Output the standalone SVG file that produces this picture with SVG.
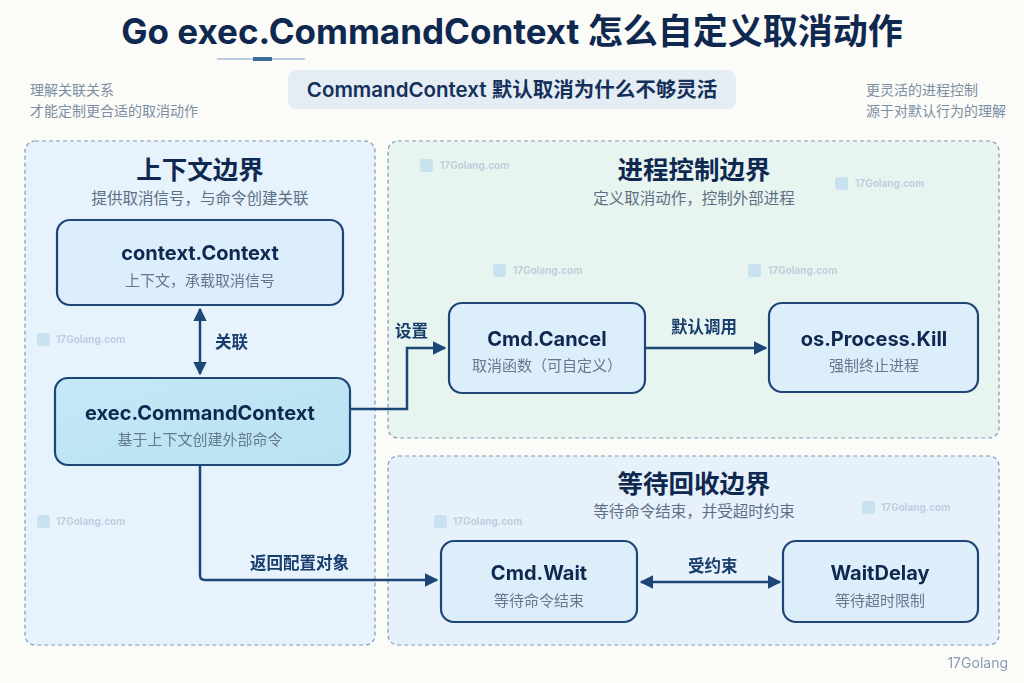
<svg xmlns="http://www.w3.org/2000/svg" width="1024" height="683" viewBox="0 0 1024 683">
<defs>
<style>
.t{font-family:Inter,"Noto Sans","Noto Sans CJK SC",sans-serif;}
.title{font-size:35px;font-weight:700;fill:#0f2850;text-anchor:middle;}
.note{font-size:14px;fill:#7d8ea2;}
.ptitle{font-size:25.5px;font-weight:700;fill:#0f2850;text-anchor:middle;}
.psub{font-size:15.5px;fill:#5d6f85;text-anchor:middle;}
.nt{font-size:20px;font-weight:700;fill:#0f2850;text-anchor:middle;}
.ns{font-size:15px;fill:#66788e;text-anchor:middle;}
.lbl{font-size:16.5px;font-weight:700;fill:#173d6c;}
.panel{stroke:#7d9bbd;stroke-width:1.2;stroke-dasharray:4 3;}
.node{stroke:#1d4676;stroke-width:2.2;}
.conn{fill:none;stroke:#1b4677;stroke-width:2.5;}
.wm{font-size:10px;font-weight:700;fill:#b9cadb;}
</style>
<marker id="ah" viewBox="0 0 10 10" refX="9" refY="5" markerWidth="5.5" markerHeight="5.5" orient="auto-start-reverse" markerUnits="strokeWidth">
<path d="M0,0 L10,5 L0,10 z" fill="#1b4677"/>
</marker>
<linearGradient id="gExec" x1="0" y1="0" x2="1" y2="1">
<stop offset="0" stop-color="#c4e8f6"/><stop offset="1" stop-color="#b9e2f3"/>
</linearGradient>
<g id="wmicon"><rect x="0" y="0" width="13" height="13" rx="3" fill="#c6e0f0"/></g>
</defs>
<rect width="1024" height="683" fill="#fbfbf8"/>

<g id="header">
<text class="t title" x="512" y="44">Go exec.CommandContext 怎么自定义取消动作</text>
<line x1="217" y1="59" x2="305" y2="59" stroke="#7ea2c4" stroke-width="1.2"/>
<rect x="253" y="57" width="19" height="4" fill="#3a6c9c"/>
<rect x="288" y="70" width="448" height="39" rx="9" fill="#e4ecf4"/>
<text class="t" x="512" y="97" font-size="20.5" font-weight="600" fill="#15305a" text-anchor="middle">CommandContext 默认取消为什么不够灵活</text>
<text class="t note" x="30" y="95">理解关联关系</text>
<text class="t note" x="30" y="116">才能定制更合适的取消动作</text>
<text class="t note" x="866" y="95">更灵活的进程控制</text>
<text class="t note" x="866" y="116">源于对默认行为的理解</text>
</g>

<g id="panel-context">
<rect class="panel" x="25" y="141" width="350" height="504" rx="10" fill="#e6f2fc"/>
<text class="t ptitle" x="200" y="179">上下文边界</text>
<text class="t psub" x="200" y="204">提供取消信号，与命令创建关联</text>
</g>
<g id="panel-process">
<rect class="panel" x="388" y="141" width="611" height="297" rx="10" fill="#e8f4ef"/>
<text class="t ptitle" x="694" y="179">进程控制边界</text>
<text class="t psub" x="694" y="204">定义取消动作，控制外部进程</text>
</g>
<g id="panel-wait">
<rect class="panel" x="388" y="456" width="611" height="189" rx="10" fill="#e6f1fb"/>
<text class="t ptitle" x="694" y="493">等待回收边界</text>
<text class="t psub" x="694" y="517">等待命令结束，并受超时约束</text>
</g>

<g id="watermarks" opacity="0.9">
<use href="#wmicon" x="37" y="333"/><text class="t wm" x="56" y="343">17Golang.com</text>
<use href="#wmicon" x="420" y="159"/><text class="t wm" x="440" y="169">17Golang.com</text>
<use href="#wmicon" x="835" y="177"/><text class="t wm" x="855" y="187">17Golang.com</text>
<use href="#wmicon" x="493" y="264"/><text class="t wm" x="513" y="274">17Golang.com</text>
<use href="#wmicon" x="748" y="264"/><text class="t wm" x="768" y="274">17Golang.com</text>
<use href="#wmicon" x="37" y="515"/><text class="t wm" x="56" y="525">17Golang.com</text>
<use href="#wmicon" x="434" y="515"/><text class="t wm" x="453" y="525">17Golang.com</text>
<use href="#wmicon" x="862" y="501"/><text class="t wm" x="881" y="511">17Golang.com</text>
</g>

<g id="connectors">
<line class="conn" x1="200" y1="309" x2="200" y2="374" marker-start="url(#ah)" marker-end="url(#ah)"/>
<text class="t lbl" x="215" y="348">关联</text>
<path class="conn" d="M351,409 H407 V348 H445" marker-end="url(#ah)"/>
<text class="t lbl" x="395" y="337">设置</text>
<path class="conn" d="M200,466 V575 Q200,580 205,580 H437" marker-end="url(#ah)"/>
<text class="t lbl" x="250" y="569">返回配置对象</text>
<line class="conn" x1="646" y1="348" x2="766" y2="348" marker-end="url(#ah)"/>
<text class="t lbl" x="671" y="333">默认调用</text>
<line class="conn" x1="641" y1="582" x2="780" y2="582" marker-start="url(#ah)" marker-end="url(#ah)"/>
<text class="t lbl" x="688" y="572">受约束</text>
</g>

<g id="node-context">
<rect class="node" x="57" y="220" width="286" height="85" rx="13" fill="#dcedfb"/>
<text class="t nt" x="200" y="260">context.Context</text>
<text class="t ns" x="200" y="286">上下文，承载取消信号</text>
</g>
<g id="node-exec">
<rect class="node" x="55" y="378" width="295" height="87" rx="13" fill="url(#gExec)"/>
<text class="t nt" x="200" y="420">exec.CommandContext</text>
<text class="t ns" x="200" y="445">基于上下文创建外部命令</text>
</g>
<g id="node-cancel">
<rect class="node" x="449" y="303" width="196" height="90" rx="13" fill="#ddeefb"/>
<text class="t nt" x="547" y="346">Cmd.Cancel</text>
<text class="t ns" x="547" y="371">取消函数（可自定义）</text>
</g>
<g id="node-kill">
<rect class="node" x="769" y="303" width="209" height="89" rx="13" fill="#ddeefb"/>
<text class="t nt" x="874" y="346">os.Process.Kill</text>
<text class="t ns" x="874" y="371">强制终止进程</text>
</g>
<g id="node-wait">
<rect class="node" x="441" y="541" width="196" height="81" rx="13" fill="#ddeefb"/>
<text class="t nt" x="539" y="580">Cmd.Wait</text>
<text class="t ns" x="539" y="606">等待命令结束</text>
</g>
<g id="node-waitdelay">
<rect class="node" x="783" y="541" width="195" height="81" rx="13" fill="#ddeefb"/>
<text class="t nt" x="880" y="580">WaitDelay</text>
<text class="t ns" x="880" y="606">等待超时限制</text>
</g>

<text class="t" x="1008" y="668" font-size="14" fill="#8a9cb2" text-anchor="end">17Golang</text>
</svg>
